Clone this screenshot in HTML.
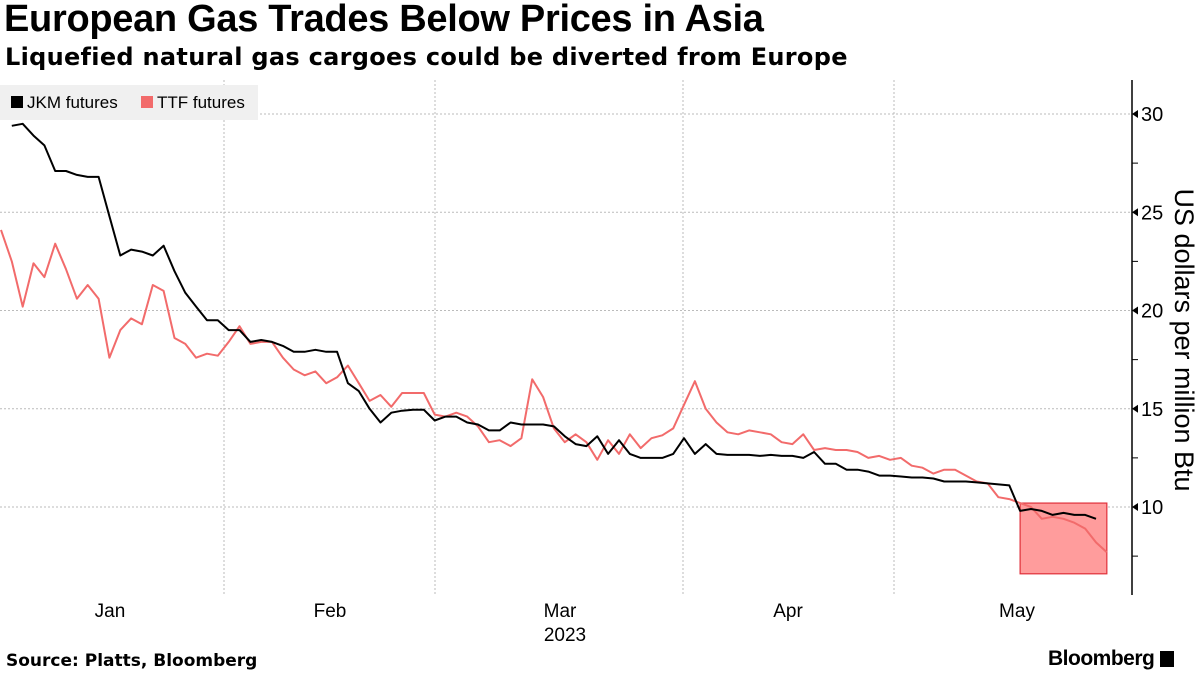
<!DOCTYPE html>
<html><head><meta charset="utf-8"><style>
body{margin:0;width:1200px;height:675px;background:#fff;overflow:hidden;font-family:"Liberation Sans",sans-serif;}
#title{position:absolute;left:4px;top:-2px;font-size:38px;font-weight:bold;color:#000;letter-spacing:-0.3px}
#sub{position:absolute;left:5px;top:43px;font-size:24px;font-weight:bold;color:#000;font-family:"DejaVu Sans",sans-serif;letter-spacing:0.3px}
#src{position:absolute;left:6px;top:651px;font-size:17px;font-weight:bold;font-family:"DejaVu Sans",sans-serif}
#logo{position:absolute;left:1048px;top:647px;font-size:21px;font-weight:bold;letter-spacing:-0.5px}
svg{position:absolute;left:0;top:0}
</style></head><body>
<div id="title">European Gas Trades Below Prices in Asia</div>
<div id="sub">Liquefied natural gas cargoes could be diverted from Europe</div>
<div id="src">Source: Platts, Bloomberg</div>
<div id="logo">Bloomberg <span style="display:inline-block;width:14px;height:16px;background:#000;vertical-align:-2px"></span></div>
<svg id="chart" width="1200" height="675"></svg>
<script>
const yTicks=[10,15,20,25,30];
const yMinor=[7.5,12.5,17.5,22.5,27.5];
const monthLabels=["Jan","Feb","Mar","Apr","May"];
const monthX=[110,330,560,788,1017];
const gridX=[224,435,683,894];
const jkm=[null,29.4,29.5,28.9,28.4,27.1,27.1,26.9,26.8,26.8,24.8,22.8,23.1,23.0,22.8,23.3,22.0,20.9,20.2,19.5,19.5,19.0,19.0,18.4,18.5,18.4,18.2,17.9,17.9,18.0,17.9,17.9,16.3,15.9,15.0,14.3,14.8,14.9,14.95,14.95,14.4,14.6,14.6,14.3,14.2,13.9,13.9,14.3,14.2,14.2,14.2,14.1,13.6,13.2,13.1,13.6,12.7,13.4,12.7,12.5,12.5,12.5,12.7,13.5,12.7,13.2,12.7,12.65,12.65,12.65,12.6,12.65,12.6,12.6,12.5,12.8,12.2,12.2,11.9,11.9,11.8,11.6,11.6,11.55,11.5,11.5,11.45,11.3,11.3,11.3,11.25,11.2,11.15,11.1,9.8,9.9,9.8,9.6,9.7,9.6,9.6,9.4];
const ttf=[24.1,22.5,20.2,22.4,21.7,23.4,22.1,20.6,21.3,20.6,17.6,19.0,19.6,19.3,21.3,21.0,18.6,18.3,17.6,17.8,17.7,18.4,19.2,18.3,18.4,18.4,17.6,17.0,16.7,16.9,16.3,16.6,17.2,16.3,15.4,15.7,15.1,15.8,15.8,15.8,14.7,14.6,14.8,14.6,14.1,13.3,13.4,13.1,13.5,16.5,15.6,14.0,13.3,13.7,13.3,12.4,13.4,12.7,13.7,13.0,13.5,13.65,14.0,15.2,16.4,15.0,14.3,13.8,13.7,13.9,13.8,13.7,13.3,13.2,13.7,12.9,13.0,12.9,12.9,12.8,12.5,12.6,12.4,12.5,12.1,12.0,11.7,11.9,11.9,11.6,11.3,11.2,10.5,10.4,10.2,10.0,9.4,9.5,9.4,9.2,8.9,8.2,7.7];
const highlightRange=[6.6,10.2];
const x=i=>1+i*((1096-1)/(jkm.length-1));
const y=v=>507-(v-10)*19.65;
const NS="http://www.w3.org/2000/svg";
const svg=document.getElementById('chart');
function mk(t,a){const e=document.createElementNS(NS,t);for(const k in a)e.setAttribute(k,a[k]);svg.appendChild(e);return e;}
yTicks.forEach(v=>{
 const g=mk('line',{x1:0,x2:1132,y1:y(v),y2:y(v),stroke:'#bbb','stroke-dasharray':'2,2','stroke-width':1});
 
 
 const tk=mk('polygon',{points:`1132,${y(v)} 1138,${y(v)-4} 1138,${y(v)+4}`,fill:'#000'});
 
 
 const t=mk('text',{x:1141,y:y(v)+7,'font-size':20,fill:'#000'});t.textContent=v;
 
 
});
yMinor.forEach(v=>{
 const tk=mk('line',{x1:1132,x2:1138,y1:y(v),y2:y(v),stroke:'#000','stroke-width':1});
 
 
});
gridX.forEach(gx=>{
 const g=mk('line',{x1:gx,x2:gx,y1:80,y2:595,stroke:'#bbb','stroke-dasharray':'2,2','stroke-width':1});
 
 
});
const ax=mk('line',{x1:1132,x2:1132,y1:80,y2:595,stroke:'#000','stroke-width':1.5});


monthLabels.forEach((m,i)=>{
 const t=mk('text',{x:monthX[i],y:617,'font-size':19,'text-anchor':'middle',fill:'#000'});t.textContent=m;
 
 
});
const yr=mk('text',{x:565,y:641,'font-size':19,'text-anchor':'middle',fill:'#000'});yr.textContent='2023';


const yt=mk('text',{x:0,y:0,'font-size':27,'text-anchor':'middle',fill:'#000',transform:'translate(1175,340) rotate(90)'});yt.textContent='US dollars per million Btu';


const hx0=x(jkm.findIndex((v,i)=>i>0&&v<10)), hx1=x(ttf.length-1);
const hb=mk('rect',{x:hx0,y:y(highlightRange[1]),width:hx1-hx0,height:y(highlightRange[0])-y(highlightRange[1]),fill:'#ff9c9c',stroke:'#e0303a','stroke-width':1.2});


function path(arr,color,name){
 let d='';arr.forEach((v,i)=>{if(v==null)return;d+=(d?'L':'M')+x(i).toFixed(1)+','+y(v).toFixed(1);});
 const p=mk('path',{d:d,fill:'none',stroke:color,'stroke-width':2,'stroke-linejoin':'round'});
 
 
}
path(ttf,'#f26b6b','ttf-line');
path(jkm,'#000','jkm-line');
const lg=mk('rect',{x:0,y:85,width:258,height:35,fill:'#f0f0f0'});


const s1=mk('rect',{x:11,y:96,width:12,height:12,fill:'#000'});


const l1=mk('text',{x:27,y:108,'font-size':17,fill:'#000'});l1.textContent='JKM futures';


const s2=mk('rect',{x:141,y:96,width:12,height:12,fill:'#f26b6b'});


const l2=mk('text',{x:157,y:108,'font-size':17,fill:'#000'});l2.textContent='TTF futures';


</script>
</body></html>
